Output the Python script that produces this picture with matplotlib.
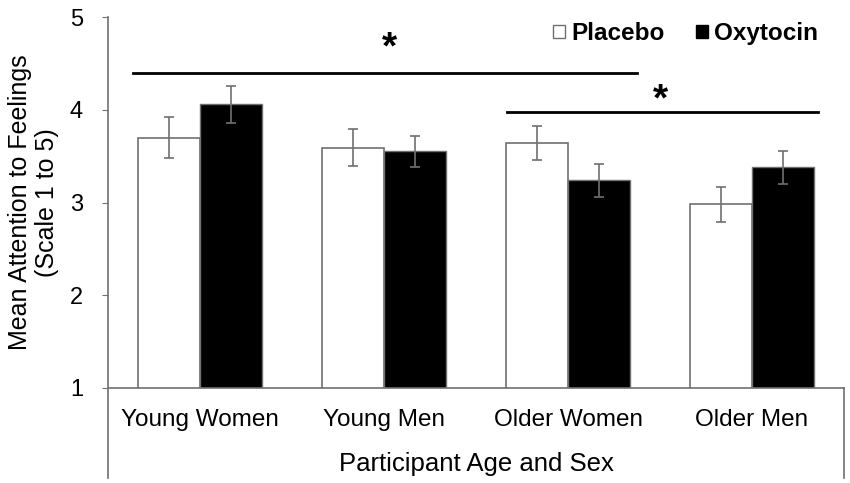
import numpy as np
import matplotlib.pyplot as plt
from matplotlib.patches import Patch

# Data
groups = ['Young Women', 'Young Men', 'Older Women', 'Older Men']
placebo = [3.70, 3.59, 3.64, 2.98]
placebo_err = [0.22, 0.20, 0.18, 0.19]
oxytocin = [4.06, 3.55, 3.24, 3.38]
oxytocin_err = [0.20, 0.17, 0.18, 0.18]

# significance brackets: (x start, x end, line y, star x, star y)
sig_lines = [(-0.364, 2.375, 4.40, 1.03, 4.66),
             (1.668, 3.359, 3.98, 2.50, 4.10)]

plt.rcParams['font.family'] = ['Liberation Sans', 'DejaVu Sans']
gray = '#707070'

fig = plt.figure(figsize=(8.5, 4.83), dpi=100)
ax = fig.add_axes([108 / 850, 95 / 483, 736 / 850, 371 / 483])

x = np.arange(len(groups))
w = 0.335
ekw = dict(ecolor=gray, elinewidth=1.2, capsize=3.5, capthick=1.2)
ax.bar(x - w / 2, placebo, w, color='white', edgecolor=gray,
       linewidth=1.2, yerr=placebo_err, error_kw=ekw, zorder=2)
ax.bar(x + w / 2, oxytocin, w, color='black', edgecolor=gray,
       linewidth=1.0, yerr=oxytocin_err, error_kw=ekw, zorder=2)

ax.set_xlim(-0.5, len(groups) - 0.5)
ax.set_ylim(1, 5)
ax.set_yticks([1, 2, 3, 4, 5])
ax.tick_params(axis='y', direction='out', length=4, color=gray,
               labelsize=17, pad=14)
ax.tick_params(axis='x', length=0, labelsize=17.5, pad=15)
ax.set_xticks(x)
ax.set_xticklabels(groups)

for side in ['top', 'right', 'left']:
    ax.spines[side].set_visible(False)
ax.spines['bottom'].set_color(gray)
ax.spines['bottom'].set_linewidth(1.2)

# extended category axis frame (left axis and right end drop below)
tr = ax.get_xaxis_transform()
ax.plot([-0.5, -0.5], [-0.243, 1.0], transform=tr, color=gray, lw=1.2,
        clip_on=False)
ax.plot([3.5, 3.5], [-0.243, 0.0], transform=tr, color=gray, lw=1.2,
        clip_on=False)

ax.set_xlabel('Participant Age and Sex', fontsize=18.5, labelpad=15)
ax.set_ylabel('Mean Attention to Feelings\n(Scale 1 to 5)', fontsize=18,
              labelpad=8, linespacing=1.15)

for x0, x1, ly, sx, sy in sig_lines:
    ax.plot([x0, x1], [ly, ly], color='black', lw=2, clip_on=False)
    ax.text(sx, sy, '*', fontsize=28, fontweight='bold', ha='center',
            va='center')

handles = [Patch(facecolor='white', edgecolor=gray, label='Placebo'),
           Patch(facecolor='black', edgecolor='black', label='Oxytocin')]
ax.legend(handles=handles, ncol=2, frameon=False, loc='upper right',
          bbox_to_anchor=(0.995, 1.045), handlelength=0.5, handleheight=0.5,
          handletextpad=0.25, columnspacing=1.3,
          prop={'size': 17.5, 'weight': 'bold'})

fig.savefig('out.png', dpi=100)
